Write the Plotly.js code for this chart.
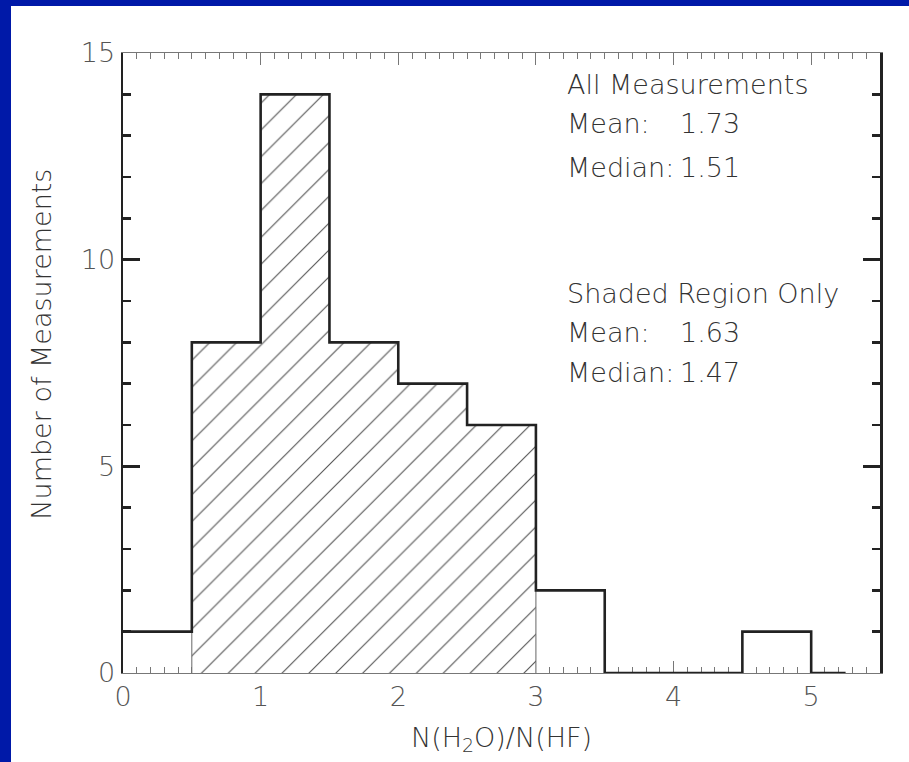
<!DOCTYPE html>
<html>
<head>
<meta charset="utf-8">
<script src="https://cdn.plot.ly/plotly-3.0.1.min.js"></script>
<style>
  html, body { margin: 0; padding: 0; background: #0019a8; width: 909px; height: 762px; overflow: hidden; }
  #chart { position: absolute; left: 11px; top: 6px; width: 898px; height: 756px; background: #fff; }
</style>
</head>
<body>
<div id="chart"></div>
<script>
// Histogram of N(H2O)/N(HF)
const binEdges = [0, 0.5, 1, 1.5, 2, 2.5, 3, 3.5, 4, 4.5, 5, 5.25];
const counts   = [1, 8, 14, 8, 7, 6, 2, 0, 0, 1, 0];
const shadedFrom = 0.5;
const shadedTo = 3.0;

const statLabels = ["Mean:", "Median:", "Mean:", "Median:"];
const statValues = ["1.73", "1.51", "1.63", "1.47"];
const headings = ["All Measurements", "Shaded Region Only"];

// step line
const stepX = binEdges.slice();
const stepY = counts.concat([counts[counts.length - 1]]);

// shaded polygon from bins within [shadedFrom, shadedTo]
const polyX = [], polyY = [];
for (let i = 0; i < counts.length; i++) {
  const a = binEdges[i], b = binEdges[i + 1];
  if (a >= shadedFrom && b <= shadedTo) {
    if (polyX.length === 0) { polyX.push(a); polyY.push(0); }
    polyX.push(a, b); polyY.push(counts[i], counts[i]);
  }
}
polyX.push(polyX[polyX.length - 1]); polyY.push(0);

const FONT = "DejaVu Sans";
const fontSize = 27;

const traces = [
  {
    type: "scatter", mode: "lines", x: polyX, y: polyY,
    fill: "toself", fillcolor: "rgba(0,0,0,0)",
    fillpattern: { shape: "/", size: 19, solidity: 0.06, fgcolor: "#555", bgcolor: "#fff", fillmode: "replace" },
    line: { color: "#666", width: 1 }, hoverinfo: "skip", showlegend: false
  },
  {
    type: "scatter", mode: "lines", x: stepX, y: stepY,
    line: { shape: "hv", color: "#222", width: 2.6 },
    showlegend: false, cliponaxis: false
  }
];

const ann = [];
const colX = 3.21, valX = 4.03;
const headY = [14.23, 9.19];
headings.forEach((h, k) => {
  ann.push({ x: colX, y: headY[k], xref: "x", yref: "y", text: h, showarrow: false, xanchor: "left", yanchor: "middle",
    font: { family: FONT, size: fontSize, color: "#333", weight: 200 } });
});
const statY = [13.3, 12.24, 8.23, 7.26];
statLabels.forEach((l, k) => {
  ann.push({ x: colX, y: statY[k], xref: "x", yref: "y", text: l, showarrow: false, xanchor: "left", yanchor: "middle",
    font: { family: FONT, size: fontSize, color: "#333", weight: 200 } });
  ann.push({ x: valX, y: statY[k], xref: "x", yref: "y", text: statValues[k], showarrow: false, xanchor: "left", yanchor: "middle",
    font: { family: FONT, size: fontSize, color: "#333", weight: 200 } });
});
// y-axis title
ann.push({ x: -0.108, y: 0.53, xref: "paper", yref: "paper", text: "Number of Measurements", textangle: -90,
  showarrow: false, xanchor: "center", yanchor: "middle",
  font: { family: FONT, size: fontSize, color: "#333", weight: 200 } });

const layout = {
  width: 898, height: 756,
  margin: { l: 112, r: 29, t: 47, b: 89 },
  paper_bgcolor: "#fff", plot_bgcolor: "#fff",
  font: { family: FONT, size: fontSize, color: "#555", weight: 200 },
  showlegend: false,
  xaxis: {
    range: [0, 5.5], dtick: 1, tick0: 0,
    showline: true, linecolor: "#777", linewidth: 1, mirror: "ticks",
    ticks: "inside", ticklen: 12, tickwidth: 1, tickcolor: "#777",
    minor: { dtick: 0.1, ticks: "inside", ticklen: 6, tickwidth: 1, tickcolor: "#777" },
    showgrid: false, zeroline: false, layer: "below traces",
    tickfont: { family: FONT, size: fontSize, color: "#555", weight: 200 },
    title: { text: "N(H<sub>2</sub>O)/N(HF)", standoff: 16, font: { family: FONT, size: fontSize, color: "#333", weight: 200 } }
  },
  yaxis: {
    range: [0, 15], dtick: 5, tick0: 0,
    showline: true, linecolor: "#222", linewidth: 2.5, mirror: "ticks",
    ticks: "inside", ticklen: 17, tickwidth: 2.5, tickcolor: "#222",
    minor: { dtick: 1, ticks: "inside", ticklen: 8, tickwidth: 2.5, tickcolor: "#222" },
    showgrid: false, zeroline: false,
    tickfont: { family: FONT, size: fontSize, color: "#555", weight: 200 }
  },
  annotations: ann
};

Plotly.newPlot("chart", traces, layout, { displayModeBar: false, staticPlot: true });
</script>
</body>
</html>
